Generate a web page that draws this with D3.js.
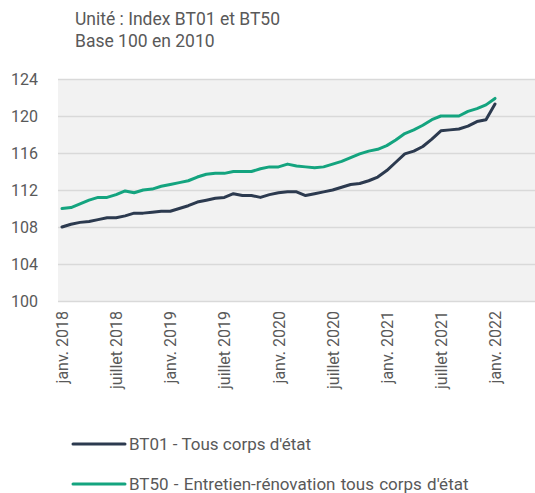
<!DOCTYPE html>
<html><head><meta charset="utf-8">
<script src="https://cdn.jsdelivr.net/npm/d3@7"></script>
<style>
html,body{margin:0;padding:0;background:#fff;}
svg{display:block;font-family:Roboto,"Noto Sans",sans-serif;}
</style></head>
<body>
<svg id="c" width="535" height="493"></svg>
<script>
const months = ["janv. 2018","févr. 2018","mars 2018","avr. 2018","mai 2018","juin 2018","juillet 2018","août 2018","sept. 2018","oct. 2018","nov. 2018","déc. 2018",
"janv. 2019","févr. 2019","mars 2019","avr. 2019","mai 2019","juin 2019","juillet 2019","août 2019","sept. 2019","oct. 2019","nov. 2019","déc. 2019",
"janv. 2020","févr. 2020","mars 2020","avr. 2020","mai 2020","juin 2020","juillet 2020","août 2020","sept. 2020","oct. 2020","nov. 2020","déc. 2020",
"janv. 2021","févr. 2021","mars 2021","avr. 2021","mai 2021","juin 2021","juillet 2021","août 2021","sept. 2021","oct. 2021","nov. 2021","déc. 2021",
"janv. 2022"];
const bt01 = [108.0,108.3,108.5,108.6,108.8,109.0,109.0,109.2,109.5,109.5,109.6,109.7,
109.7,110.0,110.3,110.7,110.9,111.1,111.2,111.6,111.4,111.4,111.2,111.5,
111.7,111.8,111.8,111.4,111.6,111.8,112.0,112.3,112.6,112.7,113.0,113.4,
114.1,115.0,115.9,116.2,116.7,117.5,118.4,118.5,118.6,118.9,119.4,119.6,
121.3];
const bt50 = [110.0,110.1,110.5,110.9,111.2,111.2,111.5,111.9,111.7,112.0,112.1,112.4,
112.6,112.8,113.0,113.4,113.7,113.8,113.8,114.0,114.0,114.0,114.3,114.5,
114.5,114.8,114.6,114.5,114.4,114.5,114.8,115.1,115.5,115.9,116.2,116.4,
116.8,117.4,118.1,118.5,119.0,119.6,120.0,120.0,120.0,120.5,120.8,121.2,
121.9];
const yTicks = [100,104,108,112,116,120,124];
const xTickLabels = ["janv. 2018","juillet 2018","janv. 2019","juillet 2019","janv. 2020","juillet 2020","janv. 2021","juillet 2021","janv. 2022"];
const seriesNames = ["BT01 - Tous corps d'état","BT50 - Entretien-rénovation tous corps d'état"];
const seriesColors = ["#2c3a4f","#14a47f"];
const titleLines = ["Unité : Index BT01 et BT50","Base 100 en 2010"];

const svg = d3.select("#c");
const plot = {l:58, r:535, t:79, b:301};
const x = d3.scaleLinear().domain([0, months.length-1]).range([62, 495]);
const y = d3.scaleLinear().domain([100,124]).range([plot.b, plot.t]);

svg.append("rect").attr("x",plot.l).attr("y",plot.t).attr("width",plot.r-plot.l).attr("height",plot.b-plot.t).attr("fill","#f2f2f2");

// title
svg.selectAll("text.title").data(titleLines).join("text")
  .attr("x",75).attr("y",(d,i)=>25+i*22).attr("fill","#595959")
  .style("font-size","17.5px").text(d=>d);

// y axis
const ya = svg.append("g").attr("transform",`translate(${plot.l},0)`)
  .call(d3.axisLeft(y).tickValues(yTicks).tickSize(-(plot.r-plot.l)).tickPadding(20).tickFormat(d3.format("d")));
ya.select(".domain").remove();
ya.selectAll("line").attr("stroke","#d9d9d9").attr("stroke-width",1.5);
ya.selectAll("text").attr("fill","#595959").style("font-size","16px").style("font-family","Roboto");

// x axis
const xa = svg.append("g").attr("transform",`translate(0,${plot.b})`)
  .call(d3.axisBottom(x).tickValues(xTickLabels.map(l=>months.indexOf(l))).tickSize(0).tickFormat(i=>months[i]));
xa.select(".domain").remove();
xa.selectAll("text").attr("fill","#595959").style("font-size","16px").style("font-family","Roboto")
  .attr("text-anchor","end").attr("transform","rotate(-90)").attr("dx","-10").attr("dy","0.35em").attr("x",null).attr("y",0);

// lines
const line = d3.line().x((d,i)=>x(i)).y(d=>y(d));
[bt01,bt50].forEach((s,k)=>{
  svg.append("path").datum(s).attr("d",line).attr("fill","none")
    .attr("stroke",seriesColors[k]).attr("stroke-width",3).attr("stroke-linejoin","round").attr("stroke-linecap","round");
});

// legend
const lg = svg.append("g");
seriesNames.forEach((n,k)=>{
  const yy = 444 + k*40;
  lg.append("line").attr("x1",73).attr("x2",125).attr("y1",yy).attr("y2",yy)
    .attr("stroke",seriesColors[k]).attr("stroke-width",3).attr("stroke-linecap","round");
  lg.append("text").attr("x",129).attr("y",yy).attr("dy","0.35em").attr("fill","#595959")
    .style("font-size","17px").style("word-spacing", k===1 ? "1px" : "0px").text(n);
});
</script>
</body></html>
